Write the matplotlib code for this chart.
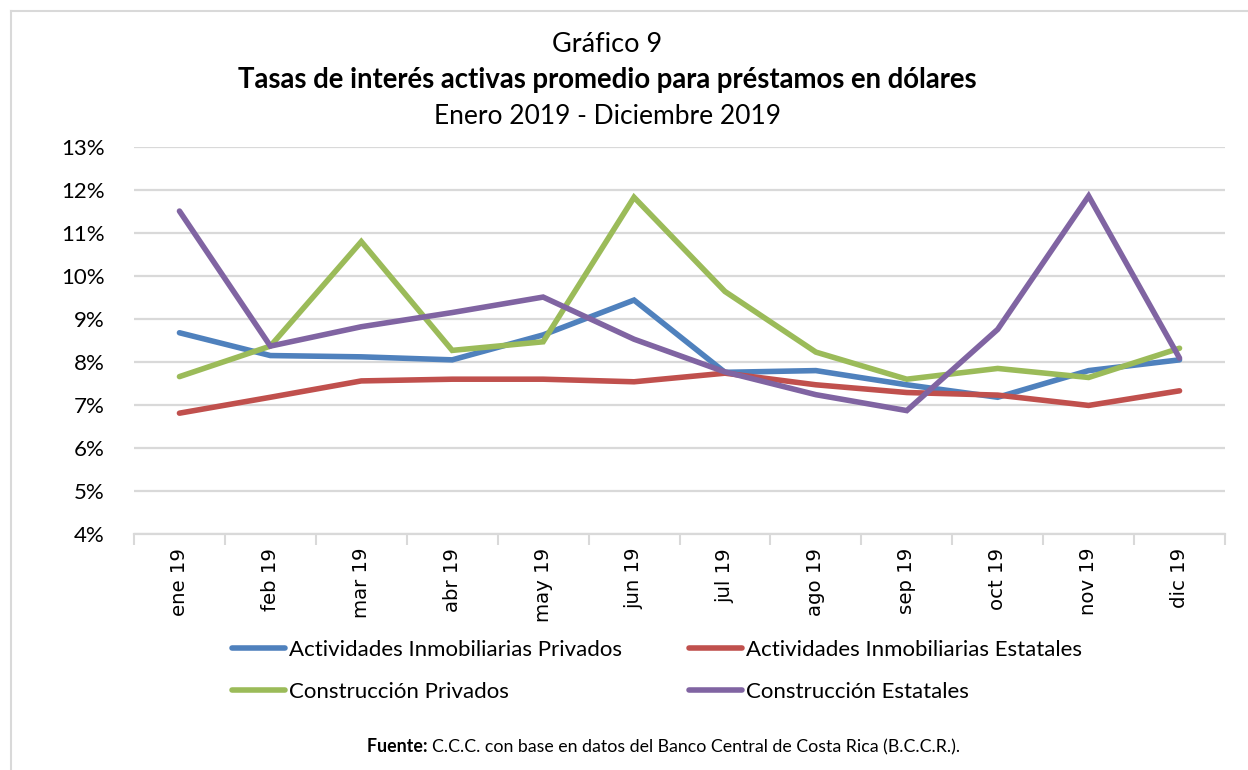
import matplotlib
matplotlib.use("Agg")
import matplotlib.pyplot as plt
from matplotlib.lines import Line2D
import numpy as np

months = ["ene 19", "feb 19", "mar 19", "abr 19", "may 19", "jun 19",
          "jul 19", "ago 19", "sep 19", "oct 19", "nov 19", "dic 19"]
inmob_priv = [8.68, 8.15, 8.12, 8.05, 8.63, 9.44, 7.76, 7.80, 7.47, 7.18, 7.80, 8.05]
inmob_est = [6.81, 7.18, 7.56, 7.60, 7.60, 7.54, 7.74, 7.47, 7.29, 7.23, 6.99, 7.33]
constr_priv = [7.66, 8.37, 10.80, 8.27, 8.47, 11.83, 9.64, 8.23, 7.60, 7.85, 7.64, 8.32]
constr_est = [11.51, 8.37, 8.82, 9.15, 9.51, 8.53, 7.77, 7.24, 6.87, 8.76, 11.86, 8.09]
series_names = ["Actividades Inmobiliarias Privados", "Actividades Inmobiliarias Estatales",
                "Construcción Privados", "Construcción Estatales"]
colors = ["#4F81BD", "#C0504D", "#9BBB59", "#8064A2"]
yticks = [4, 5, 6, 7, 8, 9, 10, 11, 12, 13]

W, H = 1248, 770
fig = plt.figure(figsize=(W / 100, H / 100), dpi=100)
fig.patch.set_facecolor("white")

# outer border (top and left visible)
fig.add_artist(Line2D([11 / W, 1.0], [1 - 11 / H, 1 - 11 / H], color="#D9D9D9", lw=1.5))
fig.add_artist(Line2D([11 / W, 11 / W], [0.0, 1 - 11 / H], color="#D9D9D9", lw=1.5))

left, right, top, bottom = 134, 1225, 147, 534
ax = fig.add_axes([left / W, 1 - bottom / H, (right - left) / W, (bottom - top) / H])

x = np.arange(len(months))
data = [inmob_priv, inmob_est, constr_priv, constr_est]
lines = []
for vals, c, name in zip(data, colors, series_names):
    ln, = ax.plot(x, vals, color=c, lw=4.0, solid_joinstyle="miter", solid_capstyle="round", label=name, zorder=3)
    lines.append(ln)

ax.set_xlim(-0.5, len(months) - 0.5)
ax.set_ylim(4, 13)
ax.set_yticks(yticks)
ax.set_yticklabels([f"{v}%" for v in yticks], fontfamily="Lato", fontsize=16)
ax.yaxis.grid(True, color="#D9D9D9", lw=1.6, zorder=0)
ax.tick_params(axis="y", length=0, pad=21)

ax.set_xticks(x)
ax.set_xticklabels(months, rotation=90, fontfamily="DejaVu Sans", fontsize=14.2)
ax.tick_params(axis="x", length=0, pad=10)
ax.set_xticks(np.arange(-0.5, len(months), 1.0), minor=True)
ax.tick_params(axis="x", which="minor", length=8, width=1.5, color="#D9D9D9")

for s in ["top", "right", "left"]:
    ax.spines[s].set_visible(False)
ax.spines["bottom"].set_color("#D9D9D9")
ax.spines["bottom"].set_linewidth(1.6)

# titles
fig.text(607 / W, 1 - 44 / H, "Gráfico 9", ha="center", va="center", fontfamily="Lato", fontsize=19.5)
fig.text(607 / W, 1 - 80 / H, "Tasas de interés activas promedio para préstamos en dólares",
         ha="center", va="center", fontfamily="Lato", fontweight="bold", fontsize=19.8)
fig.text(607 / W, 1 - 116 / H, "Enero 2019 - Diciembre 2019", ha="center", va="center",
         fontfamily="Lato", fontsize=19)

# legend
order = [0, 2, 1, 3]
fig.legend([lines[i] for i in order], [series_names[i] for i in order], ncol=2,
           loc="center", bbox_to_anchor=(657 / W, 1 - 671 / H), frameon=False,
           prop={"family": "Lato", "size": 16}, handlelength=2.4, handletextpad=0.18,
           columnspacing=3.0, labelspacing=1.0)

# source (bold label + normal text, centred together)
fig.canvas.draw()
r = fig.canvas.get_renderer()
ys = 1 - 747 / H
tb = fig.text(0, ys, "Fuente: ", ha="left", va="center", fontfamily="Lato",
              fontweight="bold", fontsize=12.8)
tn = fig.text(0, ys, "C.C.C. con base en datos del Banco Central de Costa Rica (B.C.C.R.).",
              ha="left", va="center", fontfamily="Lato", fontsize=12.8)
wb = tb.get_window_extent(r).width
wn = tn.get_window_extent(r).width
x0 = (664 - (wb + wn) / 2) / W
tb.set_x(x0)
tn.set_x(x0 + wb / W)

fig.savefig("out.png", dpi=100, facecolor="white")
